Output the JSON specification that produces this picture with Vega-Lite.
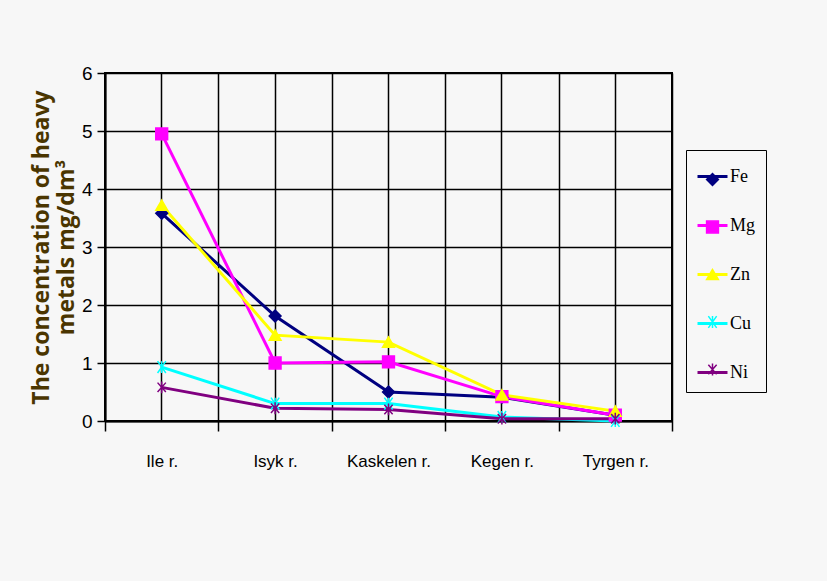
{
  "$schema": "https://vega.github.io/schema/vega-lite/v6.json",
  "width": 567,
  "height": 348,
  "autosize": {"type": "none"},
  "padding": {"left": 105, "top": 73, "right": 155, "bottom": 160},
  "background": "#f7f7f7",
  "config": {
    "view": {"stroke": "#000000", "strokeWidth": 2},
    "axis": {"gridColor": "#000000", "gridOpacity": 1, "gridWidth": 1.5}
  },
  "data": {
    "values": [
      {"river": "Ile r.", "metal": "Fe", "c": 3.58},
      {"river": "Isyk r.", "metal": "Fe", "c": 1.81},
      {"river": "Kaskelen r.", "metal": "Fe", "c": 0.5},
      {"river": "Kegen r.", "metal": "Fe", "c": 0.41},
      {"river": "Tyrgen r.", "metal": "Fe", "c": 0.1},
      {"river": "Ile r.", "metal": "Mg", "c": 4.95},
      {"river": "Isyk r.", "metal": "Mg", "c": 1.0},
      {"river": "Kaskelen r.", "metal": "Mg", "c": 1.02},
      {"river": "Kegen r.", "metal": "Mg", "c": 0.42},
      {"river": "Tyrgen r.", "metal": "Mg", "c": 0.1},
      {"river": "Ile r.", "metal": "Zn", "c": 3.72},
      {"river": "Isyk r.", "metal": "Zn", "c": 1.48},
      {"river": "Kaskelen r.", "metal": "Zn", "c": 1.36},
      {"river": "Kegen r.", "metal": "Zn", "c": 0.45},
      {"river": "Tyrgen r.", "metal": "Zn", "c": 0.17},
      {"river": "Ile r.", "metal": "Cu", "c": 0.93},
      {"river": "Isyk r.", "metal": "Cu", "c": 0.3},
      {"river": "Kaskelen r.", "metal": "Cu", "c": 0.3},
      {"river": "Kegen r.", "metal": "Cu", "c": 0.07},
      {"river": "Tyrgen r.", "metal": "Cu", "c": 0.0},
      {"river": "Ile r.", "metal": "Ni", "c": 0.58},
      {"river": "Isyk r.", "metal": "Ni", "c": 0.22},
      {"river": "Kaskelen r.", "metal": "Ni", "c": 0.2},
      {"river": "Kegen r.", "metal": "Ni", "c": 0.04},
      {"river": "Tyrgen r.", "metal": "Ni", "c": 0.04}
    ]
  },
  "layer": [
    {
      "mark": {"type": "line", "strokeWidth": 3},
      "encoding": {
        "x": {
          "field": "river", "type": "nominal", "sort": null,
          "scale": {"paddingInner": 0, "paddingOuter": 0},
          "axis": {
            "orient": "bottom", "title": null, "labelAngle": 0,
            "tickBand": "extent", "grid": true, "tickSize": 10,
            "tickColor": "#000000", "tickWidth": 1.5,
            "domainColor": "#000000", "domainWidth": 2,
            "labelFont": "Liberation Sans",
            "labelFontSize": 17, "labelColor": "#000000", "labelPadding": 22
          }
        },
        "y": {
          "field": "c", "type": "quantitative",
          "scale": {"domain": [0, 6]},
          "axis": {
            "values": [0, 1, 2, 3, 4, 5, 6], "format": "d", "grid": true,
            "tickSize": 8, "tickColor": "#000000", "tickWidth": 1.5,
            "domainColor": "#000000", "domainWidth": 2,
            "labelFont": "Liberation Sans",
            "labelFontSize": 19, "labelColor": "#000000", "labelPadding": 5,
            "title": ["The concentration of heavy", "metals mg/dm³"],
            "titleFont": "Open Sans", "titleFontSize": 23, "titleFontWeight": "bold",
            "titleColor": "#4a3500", "titleLineHeight": 25, "titlePadding": 3
          }
        },
        "color": {
          "field": "metal", "type": "nominal",
          "sort": ["Fe", "Mg", "Zn", "Cu", "Ni"],
          "scale": {"range": ["#000080", "#ff00ff", "#ffff00", "#00ffff", "#800080"]},
          "legend": {
            "title": null, "orient": "none", "legendX": 581, "legendY": 77,
            "strokeColor": "#000000", "padding": 10, "rowPadding": 23,
            "symbolType": "stroke", "symbolSize": 900, "symbolStrokeWidth": 3,
            "labelFont": "Liberation Serif", "labelFontSize": 18, "labelColor": "#000000",
            "labelOffset": 1
          }
        }
      }
    },
    {
      "mark": {"type": "point", "filled": true, "opacity": 1, "size": 140, "strokeWidth": 1.5},
      "encoding": {
        "x": {
          "field": "river", "type": "nominal", "sort": null,
          "axis": {"orient": "top", "grid": true, "labels": false, "ticks": false, "domain": false, "title": null}
        },
        "y": {"field": "c", "type": "quantitative"},
        "fill": {
          "field": "metal", "type": "nominal",
          "scale": {"domain": ["Fe", "Mg", "Zn", "Cu", "Ni"], "range": ["#000080", "#ff00ff", "#ffff00", "#00ffff", "#800080"]},
          "legend": {
            "title": null, "orient": "none", "legendX": 590, "legendY": 89,
            "padding": 8, "rowPadding": 27.5, "symbolSize": 140, "symbolStrokeWidth": 1.5,
            "labelFont": "Liberation Serif", "labelFontSize": 19, "labelOpacity": 0
          }
        },
        "stroke": {
          "field": "metal", "type": "nominal",
          "scale": {"domain": ["Fe", "Mg", "Zn", "Cu", "Ni"], "range": ["#000080", "#ff00ff", "#ffff00", "#00ffff", "#800080"]},
          "legend": {
            "title": null, "orient": "none", "legendX": 590, "legendY": 89,
            "padding": 8, "rowPadding": 27.5, "symbolSize": 140, "symbolStrokeWidth": 1.5,
            "labelFont": "Liberation Serif", "labelFontSize": 19, "labelOpacity": 0
          }
        },
        "shape": {
          "field": "metal", "type": "nominal",
          "scale": {
            "domain": ["Fe", "Mg", "Zn", "Cu", "Ni"],
            "range": ["diamond", "square", "triangle-up",
              "M-0.7,-1L0.7,1M-0.7,1L0.7,-1M0,-1L0,1",
              "M-0.7,-0.8L0.7,0.8M-0.7,0.8L0.7,-0.8M0,-1L0,1"]
          },
          "legend": {
            "title": null, "orient": "none", "legendX": 590, "legendY": 89,
            "padding": 8, "rowPadding": 27.5, "symbolSize": 140, "symbolStrokeWidth": 1.5,
            "labelFont": "Liberation Serif", "labelFontSize": 19, "labelOpacity": 0
          }
        }
      }
    }
  ],
  "resolve": {"axis": {"x": "independent"}}
}
